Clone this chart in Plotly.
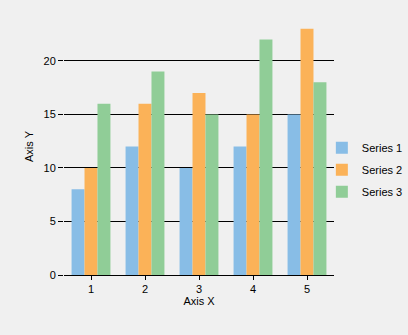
import plotly.graph_objects as go

categories = ["1", "2", "3", "4", "5"]
series_names = ["Series 1", "Series 2", "Series 3"]
series1 = [8, 12, 10, 12, 15]
series2 = [10, 16, 17, 15, 23]
series3 = [16, 19, 15, 22, 18]
colors = ["#88BDE6", "#FBB258", "#90CD97"]
y_ticks = [0, 5, 10, 15, 20]

FONT = "Liberation Sans, Arial, sans-serif"

fig = go.Figure()
for name, vals, col in zip(series_names, [series1, series2, series3], colors):
    fig.add_trace(go.Bar(
        x=[int(c) for c in categories], y=vals, name=name, legendgroup=name,
        marker=dict(color=col, line=dict(width=0)),
    ))

fig.update_layout(
    width=408, height=335,
    margin=dict(l=64, r=74, t=18, b=60, autoexpand=False),
    paper_bgcolor="#F0F0F0", plot_bgcolor="#F0F0F0",
    barmode="group", bargap=0.28, bargroupgap=0,
    font=dict(family=FONT, size=11, color="#000000"),
    legend=dict(
        x=0.955, y=0.41, xanchor="left", yanchor="middle",
        bgcolor="rgba(0,0,0,0)", font=dict(size=11),
        itemwidth=30, traceorder="grouped", tracegroupgap=3,
    ),
    xaxis=dict(
        range=[0.5, 5.5], tickvals=[int(c) for c in categories], ticktext=categories,
        showgrid=False, zeroline=False,
        showline=True, linecolor="#000000", linewidth=1,
        ticks="outside", ticklen=4, tickcolor="#000000",
        title=dict(text="Axis X", standoff=3, font=dict(size=11)),
    ),
    yaxis=dict(
        range=[0, 24], tickvals=y_ticks,
        showgrid=True, gridcolor="#000000", gridwidth=1,
        zeroline=False, showline=False,
        ticks="outside", ticklen=5, tickcolor="#000000",
        title=dict(text="Axis Y", standoff=7, font=dict(size=11)),
    ),
)

fig.write_html("out.html")
